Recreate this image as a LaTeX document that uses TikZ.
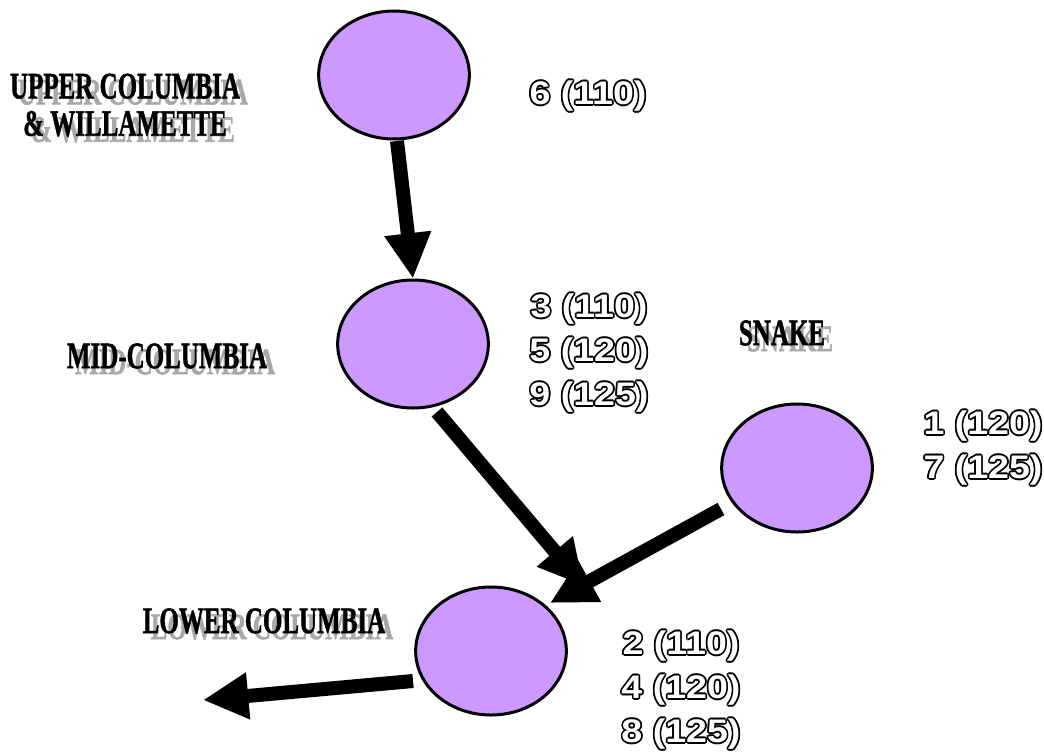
\documentclass[tikz,border=0pt]{standalone}
\usepackage{fontspec}
\newfontfamily\lblfam{Liberation Serif}[BoldFeatures={FakeBold=1.5}]
\newfontfamily\numfam{Liberation Sans}
\usetikzlibrary{shapes.geometric,arrows.meta,calc}
\definecolor{bubble}{HTML}{CC99FF}
\definecolor{shadowgray}{HTML}{A8A8A8}
\newcommand\cond[1]{\scalebox{0.67}[1]{#1}}
\newcommand\widen[1]{\scalebox{1.15}[1]{#1}}
\tikzset{
  bub/.style={ellipse,draw=black,line width=2.25pt,fill=bubble,minimum width=113pt,minimum height=96pt,inner sep=0pt},
  flow/.style={line width=10.5pt,-{Triangle[length=34pt,width=33pt]}},
  lbl/.style={font=\lblfam\bfseries\fontsize{28}{28}\selectfont,align=center,inner sep=0pt,text=black},
  numtxt/.style={font=\numfam\bfseries\fontsize{24.5}{33}\selectfont,align=center,inner sep=0pt}
}
\newcommand\outnode[3]{%
  \foreach \ang in {0,30,...,330}{\node[numtxt,text=black] at ($(#2)+(\ang:1.2pt)$) {#3};}%
  \node[numtxt,text=white] (#1) at (#2) {#3};}
\newcommand\shadnode[3]{%
  \node[lbl,text=shadowgray] at ($(#2)+(8,6)$) {#3};%
  \node[lbl] (#1) at (#2) {#3};}
\begin{document}
\begin{tikzpicture}[x=0.75pt,y=-0.75pt]
\useasboundingbox (0,0) rectangle (1044,753);
% bubbles
\node[bub] (upper) at (394,75) {};
\node[bub] (mid) at (413,344) {};
\node[bub] (snake) at (797,468) {};
\node[bub] (lower) at (491,651) {};
% connector end points
\coordinate (a1s) at (397,141);
\coordinate (a2s) at (437,412);
\coordinate (a2e) at (584,586);
\coordinate (a3s) at (721,509);
\coordinate (a3e) at (550,603);
\coordinate (a4s) at (413,681);
\coordinate (out) at (203,700);
% arrows
\draw[flow] (a1s) -- (mid.north);
\draw[flow] (a2s) -- (a2e);
\draw[flow] (a3s) -- (a3e);
\draw[flow] (a4s) -- (out);
% region labels
\shadnode{lupper}{125,105}{\cond{UPPER COLUMBIA}\\\cond{\& WILLAMETTE}}
\shadnode{lmid}{167,356}{\cond{MID-COLUMBIA}}
\shadnode{lsnake}{782,333}{\cond{SNAKE}}
\shadnode{llower}{264,621}{\cond{LOWER COLUMBIA}}
% numbers
\outnode{nupper}{588,96}{\widen{6 (110)}}
\outnode{nmid}{589,353}{\widen{3 (110)}\\\widen{5 (120)}\\\widen{9 (125)}}
\outnode{nsnake}{983,448}{\widen{1 (120)}\\\widen{7 (125)}}
\outnode{nlower}{681,690}{\widen{2 (110)}\\\widen{4 (120)}\\\widen{8 (125)}}
\end{tikzpicture}
\end{document}
